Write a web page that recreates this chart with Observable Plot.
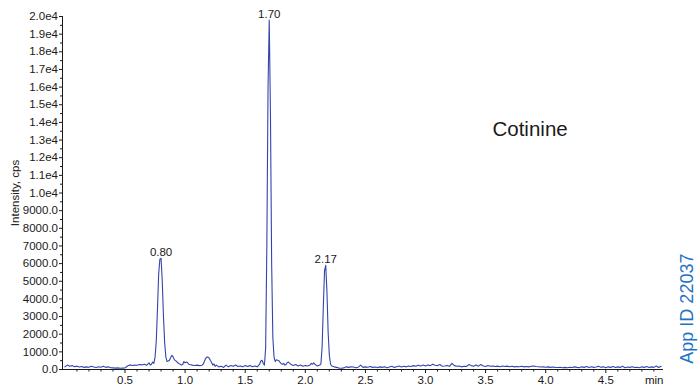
<!DOCTYPE html>
<html>
<head>
<meta charset="utf-8">
<script src="https://cdn.jsdelivr.net/npm/d3@7"></script>
<script src="https://cdn.jsdelivr.net/npm/@observablehq/plot@0.6"></script>
<style>
  html, body { margin: 0; padding: 0; background: #fff; }
  #chart { width: 699px; height: 389px; }
</style>
</head>
<body>
<div id="chart"></div>
<script>
// Retention times (min)
const times = [
  0.00,0.02,0.04,0.06,0.08,0.10,0.12,0.14,0.16,0.18,0.20,0.22,0.24,0.26,0.28,0.30,0.32,0.34,0.36,0.38,0.40,0.42,0.44,0.46,0.48,0.50,
  0.52,0.54,0.56,0.58,0.60,0.62,0.64,0.66,0.68,0.70,0.71,0.72,0.73,0.74,
  0.75,0.76,0.77,0.78,0.79,0.80,0.81,0.82,0.83,0.84,0.85,0.86,
  0.87,0.88,0.89,0.90,0.91,0.92,0.93,0.94,0.95,0.96,0.97,0.98,0.99,1.00,1.01,1.02,1.03,1.04,1.06,1.08,1.10,1.12,1.14,
  1.15,1.16,1.17,1.18,1.19,1.20,1.21,1.22,1.23,1.24,1.25,1.26,1.28,1.30,1.32,1.34,1.36,1.38,1.40,1.42,1.44,1.46,1.48,1.50,1.52,1.54,1.56,1.58,1.60,1.62,1.63,1.64,1.65,1.66,
  1.67,1.68,1.69,1.70,1.71,1.72,1.73,1.74,1.75,
  1.76,1.77,1.78,1.79,1.80,1.81,1.82,1.83,1.84,1.85,1.86,1.87,1.88,1.90,1.92,1.94,1.96,1.98,2.00,2.02,2.04,2.05,2.06,2.07,2.08,2.09,2.10,2.11,2.12,2.13,
  2.14,2.15,2.16,2.17,2.18,2.19,2.20,2.21,2.22,
  2.24,2.26,2.28,2.30,2.32,2.34,2.36,2.38,2.40,2.42,
  2.44,2.46,2.48,2.50,2.52,2.54,2.56,2.58,2.60,2.62,
  2.64,2.66,2.68,2.70,2.72,2.74,2.76,2.78,2.80,2.82,
  2.84,2.86,2.88,2.90,2.92,2.94,2.96,2.98,3.00,3.02,
  3.04,3.06,3.08,3.10,3.12,3.14,3.16,3.18,3.20,3.22,
  3.24,3.26,3.28,3.30,3.32,3.34,3.36,3.38,3.40,3.42,
  3.44,3.46,3.48,3.50,3.52,3.54,3.56,3.58,3.60,3.62,
  3.64,3.66,3.68,3.70,3.72,3.74,3.76,3.78,3.80,3.82,
  3.84,3.86,3.88,3.90,3.92,3.94,3.96,3.98,4.00,4.02,
  4.04,4.06,4.08,4.10,4.12,4.14,4.16,4.18,4.20,4.22,
  4.24,4.26,4.28,4.30,4.32,4.34,4.36,4.38,4.40,4.42,
  4.44,4.46,4.48,4.50,4.52,4.54,4.56,4.58,4.60,4.62,
  4.64,4.66,4.68,4.70,4.72,4.74,4.76,4.78,4.80,4.82,
  4.84,4.86,4.88,4.90,4.92,4.94,4.96
];

// Intensity (cps)
const intensities = [
  150,250,180,220,160,190,140,170,120,150,130,180,140,110,160,130,190,120,150,100,90,80,90,70,80,90,
  200,260,230,250,240,280,260,300,240,380,250,300,420,350,
  700,1600,3400,5400,6250,6300,5000,3000,1500,700,450,480,
  520,680,800,720,560,500,450,380,330,300,260,280,450,380,420,400,300,280,250,230,250,220,240,
  300,450,620,700,700,650,520,400,250,320,180,250,150,180,120,250,150,230,180,250,170,200,150,230,170,220,160,200,150,300,480,520,350,250,
  1200,7000,16000,19800,14500,6000,1800,700,450,
  550,520,500,400,330,300,350,250,280,400,420,350,300,220,280,200,250,180,230,200,260,350,300,380,300,250,200,230,250,320,
  1300,3600,5600,5900,4400,2100,800,300,200,
  150,120,80,70,90,150,120,160,140,100,
  130,250,120,150,130,170,120,140,110,150,
  120,160,100,140,180,120,160,200,140,180,
  150,200,170,220,180,240,200,250,200,260,
  220,300,240,220,280,180,200,230,180,350,
  220,180,200,150,180,170,280,220,180,250,
  190,280,200,170,230,180,200,170,190,160,
  200,170,190,160,180,150,170,160,180,150,
  170,150,180,200,170,160,140,150,130,150,
  120,140,120,110,130,100,120,100,130,110,
  150,120,100,150,120,170,110,160,120,140,
  190,120,160,100,150,120,170,110,150,120,
  180,100,140,120,160,110,130,100,150,120,
  170,110,150,120,200,110,180
];

// Labelled peaks
const peakTimes = [0.80, 1.70, 2.17];
const peakHeights = [6300, 19800, 5900];
const peakLabels = ["0.80", "1.70", "2.17"];

// Axis ticks
const xTickValues = [0.5, 1.0, 1.5, 2.0, 2.5, 3.0, 3.5, 4.0, 4.5];
const xTickLabels = ["0.5", "1.0", "1.5", "2.0", "2.5", "3.0", "3.5", "4.0", "4.5"];
const xMinorTicks = [0.1,0.2,0.3,0.4,0.6,0.7,0.8,0.9,1.1,1.2,1.3,1.4,1.6,1.7,1.8,1.9,2.1,2.2,2.3,2.4,2.6,2.7,2.8,2.9,3.1,3.2,3.3,3.4,3.6,3.7,3.8,3.9,4.1,4.2,4.3,4.4,4.6,4.7,4.8,4.9];
const yTickValues = [0,1000,2000,3000,4000,5000,6000,7000,8000,9000,10000,11000,12000,13000,14000,15000,16000,17000,18000,19000,20000];
const yTickLabels = ["0.0","1000.0","2000.0","3000.0","4000.0","5000.0","6000.0","7000.0","8000.0","9000.0","1.0e4","1.1e4","1.2e4","1.3e4","1.4e4","1.5e4","1.6e4","1.7e4","1.8e4","1.9e4","2.0e4"];
const yMinorTicks = [500,1500,2500,3500,4500,5500,6500,7500,8500,9500,10500,11500,12500,13500,14500,15500,16500,17500,18500,19500];

const xDomain = [-0.02, 4.98];
const yDomain = [0, 20000];
const compoundName = ["Cotinine"];
const compoundPos = {t: 3.87, v: 13600};
const xUnit = ["min"];
const appId = ["App ID 22037"];
const appIdPos = {t: 5.18, v: 3450};

if (times.length !== intensities.length) throw new Error("length mismatch " + times.length + " vs " + intensities.length);

const data = times.map((t, i) => ({t, v: intensities[i]}));
const peaks = peakTimes.map((t, i) => ({t, v: peakHeights[i], label: peakLabels[i]}));

const ink = "#1a1a1a";

const chart = Plot.plot({
  width: 699,
  height: 389,
  marginLeft: 62,
  marginRight: 36,
  marginTop: 16,
  marginBottom: 20,
  style: {fontFamily: "'Liberation Sans', Arial, Helvetica, sans-serif", fontSize: "11.5px", color: ink, background: "#fff", overflow: "visible"},
  x: {domain: xDomain},
  y: {domain: yDomain},
  marks: [
    Plot.axisY({ticks: yTickValues, tickFormat: d => yTickLabels[yTickValues.indexOf(d)], tickSize: 3, tickPadding: 1.5,
      label: "Intensity, cps", labelAnchor: "center", labelArrow: "none", labelOffset: 52, fontSize: 11.5}),
    Plot.axisY({ticks: yMinorTicks, tickFormat: () => "", tickSize: 2, label: null}),
    Plot.axisX({ticks: xTickValues, tickFormat: d => xTickLabels[xTickValues.indexOf(d)], tickSize: 4, tickPadding: 2, label: null}),
    Plot.axisX({ticks: xMinorTicks, tickFormat: () => "", tickSize: 2.5, label: null}),
    Plot.ruleY([0], {stroke: ink}),
    Plot.ruleX([xDomain[0]], {y1: 0, y2: 20000, stroke: ink}),
    Plot.line(data, {x: "t", y: "v", stroke: "#3345ad", strokeWidth: 1.1}),
    Plot.text(peaks, {x: "t", y: "v", text: "label", dy: -2, lineAnchor: "bottom", fill: ink, fontSize: 11.5}),
    Plot.text(compoundName, {x: () => compoundPos.t, y: () => compoundPos.v, fontSize: 20.5, fill: ink}),
    Plot.text(xUnit, {x: () => xDomain[1], y: () => 0, textAnchor: "end", dy: 11, lineAnchor: "middle", fill: ink, fontSize: 11.5}),
    Plot.text(appId, {x: () => appIdPos.t, y: () => appIdPos.v, rotate: -90, fill: "#1f72c4", fontSize: 18, clip: false})
  ]
});

document.getElementById("chart").appendChild(chart);
</script>
</body>
</html>
